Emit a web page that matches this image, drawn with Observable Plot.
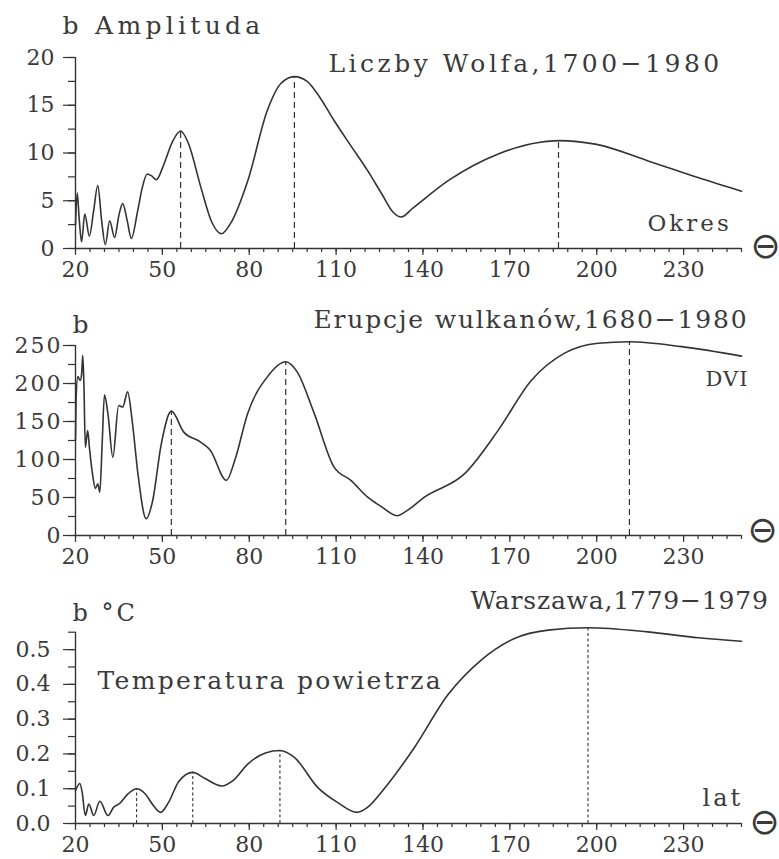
<!DOCTYPE html>
<html>
<head>
<meta charset="utf-8">
<script src="https://cdn.jsdelivr.net/npm/d3@7"></script>
<script src="https://cdn.jsdelivr.net/npm/@observablehq/plot@0.6"></script>
<style>
  html, body { margin: 0; padding: 0; background: #fff; overflow: hidden; }
  #wrap { position: relative; width: 779px; height: 859px; background: #fff; }
  #wrap svg { position: absolute; left: 0; }
</style>
</head>
<body>
<div id="wrap"></div>
<script>
// ---------- shared axis values ----------
const xDomain = [20, 250];
const xTicks = [20, 50, 80, 110, 140, 170, 200, 230];
const xMinor = d3.range(20, 251, 5);

// ---------- panel 1: Liczby Wolfa, 1700-1980 ----------
const wolfPeriod = [20, 20.6, 21.3, 22.1, 23.2, 24.8, 26.2, 27.7, 29.0, 30.3, 31.8, 33.5, 35.0, 36.3, 37.8, 39.3,
  41.5, 43.0, 44.8, 46.3, 47.9, 50.5, 53.5, 56.3, 59.0, 63.3, 67.0, 70.4, 73.5, 79.5, 86.3, 91.0, 95.6,
  100, 104, 109.3, 115, 121.0, 126.0, 129.7, 132.5, 136.4, 148.7, 166, 180, 186.8, 200, 217.5, 235.2, 250];
const wolfAmp = [2.5, 5.8, 3.0, 0.7, 3.6, 1.3, 3.8, 6.6, 3.0, 0.4, 2.9, 1.15, 3.5, 4.7, 3.0, 1.05,
  4.0, 6.3, 7.8, 7.6, 7.2, 8.8, 11.2, 12.3, 11.0, 6.4, 2.8, 1.55, 2.6, 7.1, 14.5, 17.3, 18.0,
  17.5, 16.0, 13.4, 10.8, 8.1, 5.6, 3.8, 3.3, 4.2, 7.1, 9.9, 11.1, 11.3, 10.9, 9.2, 7.4, 6.0];
const wolfPeakPeriod = [56.3, 95.6, 186.8];
const wolfPeakAmp = [12.3, 18.0, 11.3];
const wolfYTicks = [0, 5, 10, 15, 20];

// ---------- panel 2: Erupcje wulkanów, 1680-1980 (DVI) ----------
const dviPeriod = [20, 20.2, 20.8, 21.6, 22.1, 22.5, 22.9, 23.4, 24.2, 24.8, 25.9, 26.9, 27.7, 28.4, 29.2, 30.0,
  31.2, 32.9, 34.9, 36.3, 38.0, 39.6, 41.6, 44.4, 46.6, 49.6, 53.1, 57.4, 63.2, 66.6, 72.1, 75.1, 79.4,
  86.3, 92.6, 96.6, 102.4, 109.3, 115.1, 120.9, 125.6, 131.1, 134.6, 140.5, 154.3, 165.9, 177.4, 188.9,
  200.5, 211.3, 229.3, 250];
const dviAmp = [125, 180, 209, 204, 212, 237, 200, 116, 138, 116, 80, 62, 68, 57, 120, 185,
  160, 103, 171, 169, 189, 150, 80, 22, 45, 120, 163.6, 136, 123, 112, 72.5, 100, 160,
  209, 228.6, 215, 161, 90, 72.5, 50.5, 38, 26, 33, 50.5, 81, 138, 204, 240,
  253, 255, 248.5, 236];
const dviPeakPeriod = [53.1, 92.6, 211.3];
const dviPeakAmp = [163.6, 228.6, 255];
const dviYTicks = [0, 50, 100, 150, 200, 250];

// ---------- panel 3: Warszawa, 1779-1979 (temperatura powietrza) ----------
const tempPeriod = [20, 21.5, 22.3, 23.4, 24.6, 26.3, 28.4, 31.2, 33.2, 35.3, 38.1, 41.1, 44.1, 46.6, 49.4,
  52.1, 55.6, 60.5, 64.6, 70.5, 74.6, 79.4, 85.6, 90.6, 95.6, 103.6, 110.6, 117.2, 120.6, 126.6, 137,
  148.6, 160.1, 171.6, 183.2, 197, 217.6, 235.1, 250];
const tempAmp = [0.094, 0.115, 0.09, 0.023, 0.056, 0.023, 0.064, 0.023, 0.047, 0.058, 0.085, 0.1, 0.085, 0.055, 0.032,
  0.06, 0.12, 0.147, 0.13, 0.108, 0.125, 0.17, 0.203, 0.21, 0.19, 0.104, 0.06, 0.032, 0.045, 0.1, 0.218,
  0.37, 0.47, 0.532, 0.556, 0.563, 0.551, 0.534, 0.524];
const tempPeakPeriod = [41.1, 60.5, 90.6, 197];
const tempPeakAmp = [0.1, 0.147, 0.21, 0.563];
const tempYTicks = [0, 0.1, 0.2, 0.3, 0.4, 0.5];

const ink = "#333";
const textInk = "#3a3a3a";
const serif = "'DejaVu Serif', serif";
const wrap = document.getElementById("wrap");
const blank = () => "";

function spaceText(svg, content, spacing, pred) {
  svg.querySelectorAll("text").forEach(el => {
    if (el.textContent === content && (!pred || pred(el))) {
      el.setAttribute("letter-spacing", spacing);
      el.style.letterSpacing = spacing + "px";
    }
  });
}

function makePanel(cfg) {
  const table = cfg.period.map((p, i) => ({p, v: cfg.value[i]}));
  const textMarks = cfg.texts.map(t =>
    Plot.text([t.text], {
      text: d => d,
      frameAnchor: t.frameAnchor,
      dx: t.dx, dy: t.dy,
      textAnchor: t.textAnchor || "start",
      lineAnchor: t.lineAnchor || "bottom",
      fontSize: t.fontSize,
      fontFamily: t.fontFamily || serif,
      fill: textInk
    })
  );
  const svg = Plot.plot({
    width: 779,
    height: cfg.height,
    marginLeft: 75,
    marginRight: 38,
    marginTop: cfg.mt,
    marginBottom: cfg.mb,
    x: {domain: xDomain, label: null},
    y: {domain: cfg.yDomain, label: null},
    style: {fontFamily: serif, fontSize: "22px", color: ink, background: "transparent", overflow: "visible"},
    marks: [
      Plot.ruleY([cfg.yDomain[0]], {stroke: ink, strokeWidth: 1.4}),
      Plot.ruleX([xDomain[0]], {stroke: ink, strokeWidth: 1.4}),
      Plot.axisX({ticks: xMinor, tickSize: 4, tickFormat: blank, label: null, strokeWidth: 1.2}),
      Plot.axisX({ticks: xTicks, tickSize: 7, tickPadding: 6, fontSize: 22, label: null, strokeWidth: 1.2, fill: textInk}),
      Plot.axisY({ticks: cfg.yMinor, tickSize: 7, tickFormat: blank, label: null, strokeWidth: 1.2}),
      Plot.axisY({ticks: cfg.yTicks, tickSize: 12, tickPadding: cfg.yPad, fontSize: 22,
                  tickFormat: cfg.fmt, label: null, strokeWidth: 1.2, fill: textInk}),
      Plot.ruleX(cfg.dashX, {x: d => d, y1: cfg.yDomain[0], y2: (d, i) => cfg.dashY[i],
                             stroke: ink, strokeWidth: cfg.dashWidth, strokeDasharray: cfg.dash}),
      Plot.line(table, {x: "p", y: "v", curve: "monotone-x", stroke: ink, strokeWidth: 1.6}),
      ...textMarks
    ]
  });
  svg.style.top = cfg.top + "px";
  cfg.texts.forEach(t => { if (t.spacing) spaceText(svg, t.text, t.spacing); });
  if (cfg.ySpacing) {
    cfg.yTicks.forEach(v => spaceText(svg, cfg.fmt(v), cfg.ySpacing,
      el => el.closest("g") && el.closest("g").getAttribute("text-anchor") === "end"));
  }
  wrap.appendChild(svg);
}

const circleMinus = "\u2296";

makePanel({
  top: 0, height: 285, mt: 57, mb: 37,
  period: wolfPeriod, value: wolfAmp,
  yDomain: [0, 20], yTicks: wolfYTicks, yMinor: d3.range(0, 20.01, 2.5), yPad: 9,
  fmt: d3.format("d"),
  dashX: wolfPeakPeriod, dashY: wolfPeakAmp, dash: "6,4", dashWidth: 1.2,
  texts: [
    {text: "b Amplituda", frameAnchor: "top-left", dx: -13, dy: -24, fontSize: 25, spacing: 4.3},
    {text: "Liczby Wolfa,1700\u22121980", frameAnchor: "top-left", dx: 253, dy: 14, fontSize: 25, spacing: 3.5},
    {text: "Okres", frameAnchor: "bottom-left", dx: 572, dy: -18, fontSize: 23, spacing: 3},
    {text: circleMinus, frameAnchor: "bottom-right", dx: 24, dy: -2, textAnchor: "middle", lineAnchor: "middle",
     fontSize: 36, fontFamily: "'DejaVu Sans', sans-serif"}
  ]
});

makePanel({
  top: 285, height: 285, mt: 60, mb: 35,
  period: dviPeriod, value: dviAmp,
  yDomain: [0, 250], yTicks: dviYTicks, yMinor: d3.range(0, 251, 25), yPad: 1, ySpacing: 2,
  fmt: d3.format("d"),
  dashX: dviPeakPeriod, dashY: dviPeakAmp, dash: "6,4", dashWidth: 1.2,
  texts: [
    {text: "b", frameAnchor: "top-left", dx: -3, dy: -13, fontSize: 25},
    {text: "Erupcje wulkan\u00f3w,1680\u22121980", frameAnchor: "top-left", dx: 238, dy: -18, fontSize: 25, spacing: 1.8},
    {text: "DVI", frameAnchor: "top-left", dx: 630, dy: 40, fontSize: 21, spacing: 1},
    {text: circleMinus, frameAnchor: "bottom-right", dx: 21, dy: -5, textAnchor: "middle", lineAnchor: "middle",
     fontSize: 36, fontFamily: "'DejaVu Sans', sans-serif"}
  ]
});

makePanel({
  top: 570, height: 289, mt: 61.7, mb: 36,
  period: tempPeriod, value: tempAmp,
  yDomain: [0, 0.55], yTicks: tempYTicks, yMinor: d3.range(0, 0.5501, 0.05), yPad: 13,
  fmt: d3.format(".1f"),
  dashX: tempPeakPeriod, dashY: tempPeakAmp, dash: "3,2.5", dashWidth: 1.1,
  texts: [
    {text: "b \u00b0C", frameAnchor: "top-left", dx: -3, dy: -11.7, fontSize: 24, spacing: 3},
    {text: "Warszawa,1779\u22121979", frameAnchor: "top-left", dx: 395, dy: -23.7, fontSize: 25, spacing: 0.8},
    {text: "Temperatura powietrza", frameAnchor: "top-left", dx: 22, dy: 56.3, fontSize: 25, spacing: 2.3},
    {text: "lat", frameAnchor: "bottom-left", dx: 627, dy: -18, fontSize: 24, spacing: 3},
    {text: circleMinus, frameAnchor: "bottom-right", dx: 23, dy: -1, textAnchor: "middle", lineAnchor: "middle",
     fontSize: 36, fontFamily: "'DejaVu Sans', sans-serif"}
  ]
});
</script>
</body>
</html>
